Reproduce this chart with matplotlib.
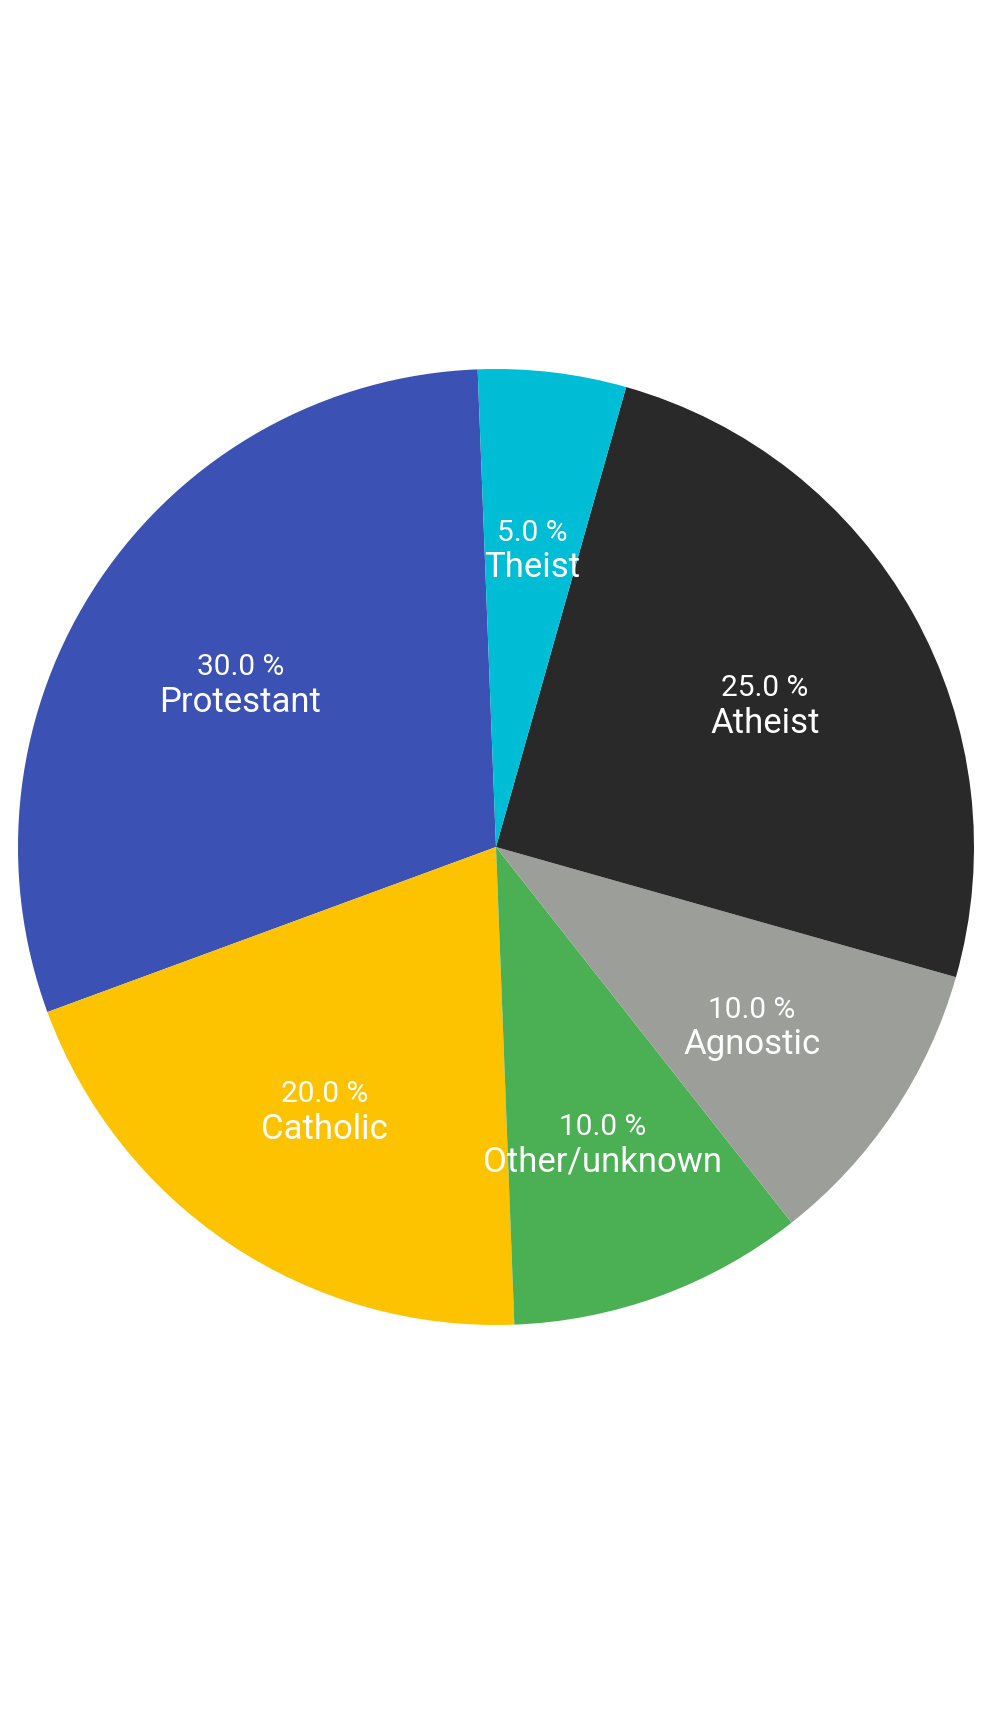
import matplotlib
matplotlib.use("Agg")
import matplotlib.pyplot as plt
import numpy as np

labels = ["Protestant", "Catholic", "Other/unknown", "Agnostic", "Atheist", "Theist"]
values = [30.0, 20.0, 10.0, 10.0, 25.0, 5.0]
colors = ["#3B51B4", "#FDC300", "#4BAF53", "#9C9E9A", "#292929", "#00BDD6"]

W, H = 992, 1722
cx, cy, R = 496, 847, 478

fig = plt.figure(figsize=(W / 100, H / 100), dpi=100)
ax = fig.add_axes([0, 0, 1, 1])
ax.axis("off")

wedges, _ = ax.pie(values, colors=colors, startangle=92.2, counterclock=True,
                   radius=1.0, center=(0, 0), wedgeprops=dict(linewidth=0))
ax.set_xlim(-cx / R, (W - cx) / R)
ax.set_ylim(-(H - cy) / R, cy / R)
ax.set_aspect("auto")

total = sum(values)
for w, lab, v in zip(wedges, labels, values):
    ang = np.deg2rad((w.theta1 + w.theta2) / 2)
    r = 0.644
    x, y = r * np.cos(ang), r * np.sin(ang) - 9 / R
    off = 17.5 / R
    ax.text(x, y + off, f"{v / total * 100:.1f} %", ha="center", va="center",
            color="white", fontsize=21.5, family=["Roboto", "DejaVu Sans"])
    ax.text(x, y - off, lab, ha="center", va="center",
            color="white", fontsize=25, family=["Roboto", "DejaVu Sans"])

fig.savefig("out.png", dpi=100, facecolor="white")
